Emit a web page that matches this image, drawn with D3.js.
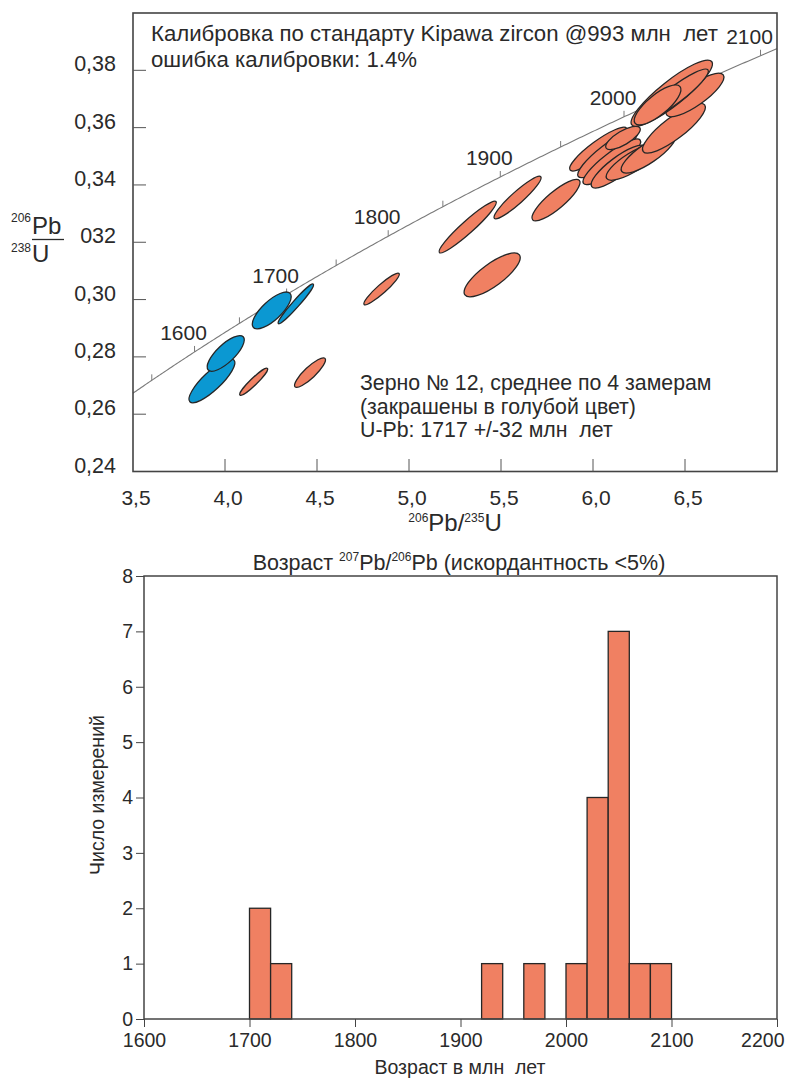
<!DOCTYPE html>
<html>
<head>
<meta charset="utf-8">
<script src="https://cdn.jsdelivr.net/npm/d3@7/dist/d3.min.js"></script>
<style>
  body { margin: 0; background: #fff; }
  text { font-family: "Liberation Sans", Arial, sans-serif; fill: #2a2a2a; }
</style>
</head>
<body>
<svg id="chart" width="785" height="1082"></svg>
<script>
// ---- concordia diagram data ----
// ellipse centres (207Pb/235U, 206Pb/238U), half major axis offset, minor/major ratio
const ellX     = [3.929, 4.004, 4.254, 4.385, 4.156, 4.462, 4.851, 5.319, 5.452, 5.590, 5.799,
                  6.029, 6.079, 6.102, 6.138, 6.219, 6.301, 6.163, 6.440, 6.554, 6.428, 6.446, 6.351];
const ellY     = [0.2716, 0.2812, 0.2962, 0.2985, 0.2713, 0.2745, 0.3037, 0.3253, 0.3086, 0.3356, 0.3347,
                  0.3525, 0.3508, 0.3481, 0.3464, 0.3481, 0.3511, 0.3564, 0.3598, 0.3714, 0.3720, 0.3714, 0.3679];
const ellDX    = [0.120, 0.095, 0.0995, 0.095, 0.0745, 0.0815, 0.095, 0.154, 0.148, 0.126, 0.127,
                  0.154, 0.159, 0.154, 0.145, 0.145, 0.145, 0.092, 0.167, 0.154, 0.217, 0.179, 0.122];
const ellDY    = [0.00727, 0.0058, 0.00594, 0.00688, 0.00465, 0.00496, 0.00541, 0.0089, 0.00699, 0.00727, 0.00688,
                  0.00727, 0.00786, 0.00758, 0.00699, 0.00583, 0.0064, 0.0035, 0.00814, 0.00699, 0.01107, 0.00873, 0.0064];
const ellRatio = [0.30, 0.37, 0.38, 0.13, 0.18, 0.27, 0.19, 0.16, 0.33, 0.19, 0.28,
                  0.23, 0.25, 0.25, 0.28, 0.30, 0.30, 0.35, 0.28, 0.30, 0.24, 0.20, 0.35];
const ellGrain12 = [1, 1, 1, 1, 0, 0, 0, 0, 0, 0, 0, 0, 0, 0, 0, 0, 0, 0, 0, 0, 0, 0, 0];

const concTickAges  = [1550, 1600, 1650, 1700, 1750, 1800, 1850, 1900, 1950, 2000, 2050, 2100];
const concLabelAges = [1600, 1700, 1800, 1900, 2000, 2100];
const xTicksTop = [3.5, 4.0, 4.5, 5.0, 5.5, 6.0, 6.5];
const yTicksTop = [0.24, 0.26, 0.28, 0.30, 0.32, 0.34, 0.36, 0.38];
const yTickLabelsTop = ['0,24', '0,26', '0,28', '0,30', '032', '0,34', '0,36', '0,38'];

// decay constants (1/Ma)
const L238 = 1.55125e-4, L235 = 9.8485e-4;

// ---- histogram data ----
const binStart = [1700, 1720, 1920, 1960, 2000, 2020, 2040, 2060, 2080];
const binCount = [2, 1, 1, 1, 1, 4, 7, 1, 1];
const binWidth = 20;
const xTicksHist = [1600, 1700, 1800, 1900, 2000, 2100, 2200];
const yTicksHist = [0, 1, 2, 3, 4, 5, 6, 7, 8];

const orange = '#f08062', blue = '#0b98d2', ink = '#2a2a2a';
const svg = d3.select('#chart');

// ================= concordia =================
const x = d3.scaleLinear().domain([3.5, 7.0]).range([133, 777]);
const y = d3.scaleLinear().domain([0.24, 0.40]).range([471.5, 13]);

const gTop = svg.append('g');

// concordia curve
const conc = t => ({ x: Math.exp(L235 * t) - 1, y: Math.exp(L238 * t) - 1 });
const tMin = Math.log(1 + 3.5) / L235, tMax = Math.log(1 + 7.0) / L235;
const curvePts = d3.range(tMin, tMax, 2).concat([tMax]).map(conc);
gTop.append('path')
  .datum(curvePts)
  .attr('fill', 'none')
  .attr('stroke', '#7a7a7a')
  .attr('stroke-width', 1.1)
  .attr('d', d3.line().x(d => x(d.x)).y(d => y(d.y)));

gTop.selectAll('.ctick').data(concTickAges).join('line')
  .attr('x1', d => x(conc(d).x)).attr('x2', d => x(conc(d).x))
  .attr('y1', d => y(conc(d).y)).attr('y2', d => y(conc(d).y) - 6)
  .attr('stroke', '#7a7a7a').attr('stroke-width', 1);

gTop.selectAll('.clabel').data(concLabelAges).join('text')
  .attr('x', d => x(conc(d).x) - 11)
  .attr('y', d => y(conc(d).y) - 12)
  .attr('text-anchor', 'middle')
  .style('font-size', '21px')
  .text(d => d);

// ellipses
const ellData = ellX.map((cx, i) => ({
  cx, cy: ellY[i], dx: ellDX[i], dy: ellDY[i], r: ellRatio[i], blue: ellGrain12[i]
}));
gTop.selectAll('.ell').data(ellData).join('ellipse')
  .each(function (d) {
    const px = x(d.cx), py = y(d.cy);
    const ex = x(d.cx + d.dx), ey = y(d.cy + d.dy);
    const a = Math.hypot(ex - px, ey - py);
    const ang = Math.atan2(ey - py, ex - px) * 180 / Math.PI;
    d3.select(this)
      .attr('cx', px).attr('cy', py)
      .attr('rx', a).attr('ry', a * d.r)
      .attr('transform', `rotate(${ang},${px},${py})`);
  })
  .attr('fill', d => d.blue ? blue : orange)
  .attr('stroke', '#262626')
  .attr('stroke-width', 1.3);

// frame + inward ticks
gTop.append('rect')
  .attr('x', 133).attr('y', 13).attr('width', 644).attr('height', 458.5)
  .attr('fill', 'none').attr('stroke', '#444').attr('stroke-width', 1.6);

gTop.selectAll('.xt').data(xTicksTop.slice(1)).join('line')
  .attr('x1', d => x(d)).attr('x2', d => x(d))
  .attr('y1', 471.5).attr('y2', 459)
  .attr('stroke', '#555').attr('stroke-width', 1);
gTop.selectAll('.yt').data(yTicksTop.slice(1)).join('line')
  .attr('x1', 133).attr('x2', 146)
  .attr('y1', d => y(d)).attr('y2', d => y(d))
  .attr('stroke', '#555').attr('stroke-width', 1);

gTop.selectAll('.xl').data(xTicksTop).join('text')
  .attr('x', d => x(d) + 3).attr('y', 505)
  .attr('text-anchor', 'middle')
  .style('font-size', '21px')
  .text(d => d.toFixed(1).replace('.', ','));
gTop.selectAll('.yl').data(yTicksTop).join('text')
  .attr('x', 116).attr('y', d => y(d) + 1)
  .attr('text-anchor', 'end')
  .style('font-size', '21.5px')
  .text((d, i) => yTickLabelsTop[i]);

// axis titles
const xt = gTop.append('text').attr('x', 455).attr('y', 531).attr('text-anchor', 'middle');
xt.append('tspan').style('font-size', '12px').attr('dy', -9).text('206');
xt.append('tspan').style('font-size', '24px').attr('dy', 9).text('Pb/');
xt.append('tspan').style('font-size', '12px').attr('dy', -9).text('235');
xt.append('tspan').style('font-size', '24px').attr('dy', 9).text('U');

gTop.append('text').attr('x', 31).attr('y', 222).attr('text-anchor', 'end').style('font-size', '12px').text('206');
gTop.append('text').attr('x', 32).attr('y', 234).style('font-size', '24px').text('Pb');
gTop.append('line').attr('x1', 32).attr('x2', 64).attr('y1', 239.5).attr('y2', 239.5)
  .attr('stroke', ink).attr('stroke-width', 1.3);
gTop.append('text').attr('x', 31).attr('y', 252).attr('text-anchor', 'end').style('font-size', '12px').text('238');
gTop.append('text').attr('x', 32).attr('y', 262).style('font-size', '24px').text('U');

// annotations
const note1 = ['Калибровка по стандарту Kipawa zircon @993 млн  лет', 'ошибка калибровки: 1.4%'];
gTop.selectAll('.n1').data(note1).join('text')
  .attr('x', 151).attr('y', (d, i) => 41 + i * 26)
  .style('font-size', '22.2px').attr('xml:space', 'preserve')
  .text(d => d);
const note2 = ['Зерно № 12, среднее по 4 замерам', '(закрашены в голубой цвет)', 'U-Pb: 1717 +/-32 млн  лет'];
gTop.selectAll('.n2').data(note2).join('text')
  .attr('x', 360).attr('y', (d, i) => 390 + i * 23.5)
  .style('font-size', '21.3px').attr('xml:space', 'preserve')
  .text(d => d);

// ================= histogram =================
const hx = d3.scaleLinear().domain([1600, 2200]).range([144, 777]);
const hy = d3.scaleLinear().domain([0, 8]).range([1019, 576]);
const gBot = svg.append('g');

gBot.selectAll('.bar').data(binStart).join('rect')
  .attr('x', d => hx(d))
  .attr('y', (d, i) => hy(binCount[i]))
  .attr('width', d => hx(d + binWidth) - hx(d))
  .attr('height', (d, i) => hy(0) - hy(binCount[i]))
  .attr('fill', orange)
  .attr('stroke', '#262626')
  .attr('stroke-width', 1.3);

gBot.append('rect')
  .attr('x', 144).attr('y', 576).attr('width', 633).attr('height', 443)
  .attr('fill', 'none').attr('stroke', '#444').attr('stroke-width', 1.5);

gBot.append('g')
  .attr('transform', 'translate(0,1019)')
  .call(d3.axisBottom(hx).tickValues(xTicksHist).tickSize(8).tickPadding(6).tickFormat(d3.format('d')))
  .call(g => g.select('.domain').remove())
  .call(g => g.selectAll('line').attr('stroke', '#444'))
  .call(g => g.selectAll('text').style('font-size', '19.5px').attr('fill', ink))
  .call(g => g.selectAll('.tick:last-of-type text').attr('text-anchor', 'end').attr('x', 7))
  .attr('font-family', null);

gBot.append('g')
  .attr('transform', 'translate(144,0)')
  .call(d3.axisLeft(hy).tickValues(yTicksHist).tickSize(8).tickPadding(3).tickFormat(d3.format('d')))
  .call(g => g.select('.domain').remove())
  .call(g => g.selectAll('line').attr('stroke', '#444'))
  .call(g => g.selectAll('text').style('font-size', '19.5px').attr('fill', ink))
  .attr('font-family', null);

const ht = gBot.append('text').attr('x', 459).attr('y', 570).attr('text-anchor', 'middle').style('font-size', '21.5px');
ht.append('tspan').text('Возраст ');
ht.append('tspan').style('font-size', '12px').attr('dy', -9).text('207');
ht.append('tspan').attr('dy', 9).text('Pb/');
ht.append('tspan').style('font-size', '12px').attr('dy', -9).text('206');
ht.append('tspan').attr('dy', 9).text('Pb (искордантность <5%)');

gBot.append('text').attr('x', 460).attr('y', 1074).attr('text-anchor', 'middle')
  .style('font-size', '19.5px').attr('xml:space', 'preserve').text('Возраст в млн  лет');
gBot.append('text')
  .attr('transform', 'translate(104,795) rotate(-90)')
  .attr('text-anchor', 'middle')
  .style('font-size', '19.5px')
  .text('Число измерений');
</script>
</body>
</html>
